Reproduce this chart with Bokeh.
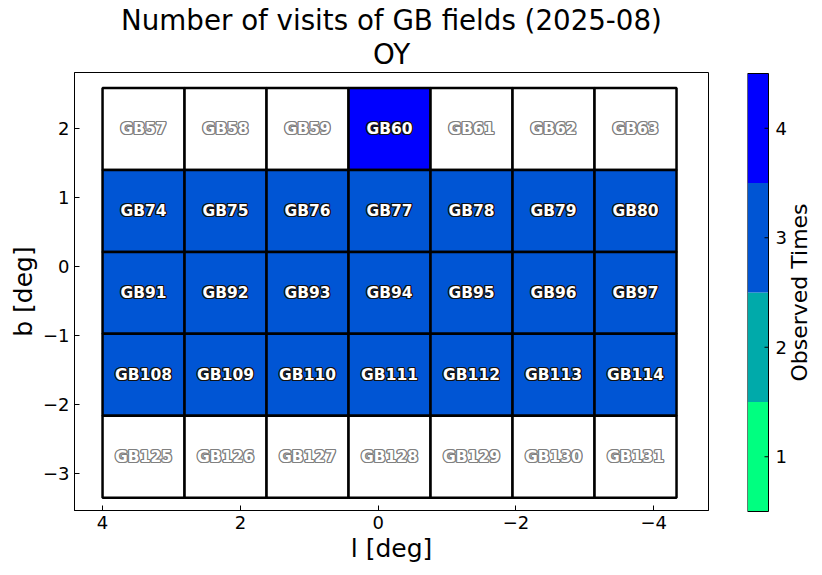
from bokeh.plotting import figure
from bokeh.models import (Range1d, FixedTicker, LinearAxis, Title, ColumnDataSource,
                          CustomJSTickFormatter)
from bokeh.layouts import row
from bokeh.core.properties import value
from bokeh.embed import file_html
from bokeh.resources import INLINE

# ---------------- data ----------------
field_names = [
    ["GB57", "GB58", "GB59", "GB60", "GB61", "GB62", "GB63"],
    ["GB74", "GB75", "GB76", "GB77", "GB78", "GB79", "GB80"],
    ["GB91", "GB92", "GB93", "GB94", "GB95", "GB96", "GB97"],
    ["GB108", "GB109", "GB110", "GB111", "GB112", "GB113", "GB114"],
    ["GB125", "GB126", "GB127", "GB128", "GB129", "GB130", "GB131"],
]
visit_counts = [
    [0, 0, 0, 4, 0, 0, 0],
    [3, 3, 3, 3, 3, 3, 3],
    [3, 3, 3, 3, 3, 3, 3],
    [3, 3, 3, 3, 3, 3, 3],
    [0, 0, 0, 0, 0, 0, 0],
]
l_edges = [4.0, 2.81, 1.62, 0.43, -0.76, -1.95, -3.14, -4.33]
b_edges = [2.59, 1.40, 0.21, -0.98, -2.17, -3.36]
levels = [1, 2, 3, 4]
level_labels = ["1", "2", "3", "4"]
palette = ["#00ff80", "#00aaaa", "#0055d4", "#0000ff"]
x_ticks = [4, 2, 0, -2, -4]
y_ticks = [2, 1, 0, -1, -2, -3]

FONT = "DejaVu Sans"

# ---------------- cells ----------------
left, right, top, bottom, colors, cx, cy, names, observed = [], [], [], [], [], [], [], [], []
for r, (nrow, crow) in enumerate(zip(field_names, visit_counts)):
    for c, (nm, cnt) in enumerate(zip(nrow, crow)):
        left.append(l_edges[c]); right.append(l_edges[c + 1])
        top.append(b_edges[r]); bottom.append(b_edges[r + 1])
        colors.append(palette[cnt - 1] if cnt > 0 else "#ffffff")
        cx.append((l_edges[c] + l_edges[c + 1]) / 2)
        cy.append((b_edges[r] + b_edges[r + 1]) / 2)
        names.append(nm)
        observed.append(cnt > 0)

cells = ColumnDataSource(dict(left=left, right=right, top=top, bottom=bottom, color=colors))
obs_src = ColumnDataSource(dict(x=[x for x, o in zip(cx, observed) if o],
                                y=[y for y, o in zip(cy, observed) if o],
                                t=[n for n, o in zip(names, observed) if o]))
un_src = ColumnDataSource(dict(x=[x for x, o in zip(cx, observed) if not o],
                               y=[y for y, o in zip(cy, observed) if not o],
                               t=[n for n, o in zip(names, observed) if not o]))

p = figure(output_backend="svg", toolbar_location=None,
           x_range=Range1d(4.407, -4.794), y_range=Range1d(-3.544, 2.814),
           frame_width=634, frame_height=438,
           min_border_left=74, min_border_right=19, min_border_top=72, min_border_bottom=52,
           x_axis_location=None, y_axis_location=None)
p.background_fill_color = "white"
p.border_fill_color = "white"
p.outline_line_color = "black"
p.outline_line_width = 1
p.xgrid.visible = False
p.ygrid.visible = False

minus_fmt = CustomJSTickFormatter(code="return tick < 0 ? '\\u2212' + String(-tick) : String(tick);")

xaxis = LinearAxis(ticker=FixedTicker(ticks=x_ticks), formatter=minus_fmt, axis_label="l [deg]")
yaxis = LinearAxis(ticker=FixedTicker(ticks=y_ticks), formatter=minus_fmt, axis_label="b [deg]")
for ax in (xaxis, yaxis):
    ax.major_tick_in = 5
    ax.major_tick_out = 0
    ax.minor_tick_line_color = None
    ax.axis_line_color = "black"
    ax.major_tick_line_color = "black"
    ax.major_label_text_font = FONT
    ax.major_label_text_font_size = "18px"
    ax.major_label_text_color = "black"
    ax.axis_label_text_font = FONT
    ax.axis_label_text_font_size = "25px"
    ax.axis_label_text_font_style = "normal"
    ax.axis_label_text_color = "black"
    ax.major_label_standoff = 5
    ax.axis_label_standoff = 2
p.add_layout(xaxis, "below")
p.add_layout(yaxis, "left")

p.quad(left="left", right="right", top="top", bottom="bottom", fill_color="color",
       line_color="black", line_width=2.5, source=cells)

offsets = [(1.3, 0), (-1.3, 0), (0, 1.3), (0, -1.3), (0.95, 0.95), (-0.95, 0.95), (0.95, -0.95), (-0.95, -0.95)]
for src, oc in ((obs_src, "#111111"), (un_src, "#808080")):
    for dx, dy in offsets:
        p.text(x="x", y="y", text="t", source=src, x_offset=dx, y_offset=dy,
               text_font=value(FONT), text_font_style="bold", text_font_size="15.5px",
               text_align="center", text_baseline="middle", text_color=oc)
    p.text(x="x", y="y", text="t", source=src,
           text_font=value(FONT), text_font_style="bold", text_font_size="15.5px",
           text_align="center", text_baseline="middle", text_color="white")

sub = Title(text="OY", align="center", text_font=FONT, text_font_size="27.7px",
            text_font_style="normal", text_color="black", standoff=3)
main = Title(text="Number of visits of GB fields (2025-08)", align="center", text_font=FONT,
             text_font_size="27.7px", text_font_style="normal", text_color="black", standoff=-5)
p.add_layout(sub, "above")
p.add_layout(main, "above")

# ---------------- colour bar ----------------
CB_PX = 21.0      # colour bar width in px
PX_PER_UNIT = 438 / 4.0
pad = 1.0 / PX_PER_UNIT
cb = figure(output_backend="svg", toolbar_location=None,
            x_range=Range1d(0, 70 / CB_PX), y_range=Range1d(0.5 - pad, 4.5 + pad),
            frame_width=70, frame_height=440,
            min_border_left=20, min_border_right=0, min_border_top=71,
            min_border_bottom=52, x_axis_location=None, y_axis_location=None)
cb.outline_line_color = None
cb.border_fill_color = "white"
cb.xgrid.visible = False
cb.ygrid.visible = False
cb.quad(left=0, right=1, bottom=[v - 0.5 for v in levels], top=[v + 0.5 for v in levels],
        fill_color=palette, line_color=None)
cb.quad(left=[0], right=[1], bottom=[levels[0] - 0.5], top=[levels[-1] + 0.5],
        fill_color=None, line_color="black", line_width=1)
cb.segment(x0=1, x1=1 - 4 / CB_PX, y0=levels, y1=levels, line_color="black", line_width=1)
cb.text(x=1 + 7 / CB_PX, y=levels, text=level_labels, text_font=value(FONT),
        text_font_size="18px", text_align="left", text_baseline="middle", text_color="black")
cb.text(x=[52 / CB_PX], y=[(levels[0] + levels[-1]) / 2], text=["Observed Times"], angle=90,
        angle_units="deg", text_font=value(FONT), text_font_size="22px", text_align="center",
        text_baseline="middle", text_color="black")

layout = row(p, cb)
open("out.html", "w").write(file_html(layout, INLINE))
